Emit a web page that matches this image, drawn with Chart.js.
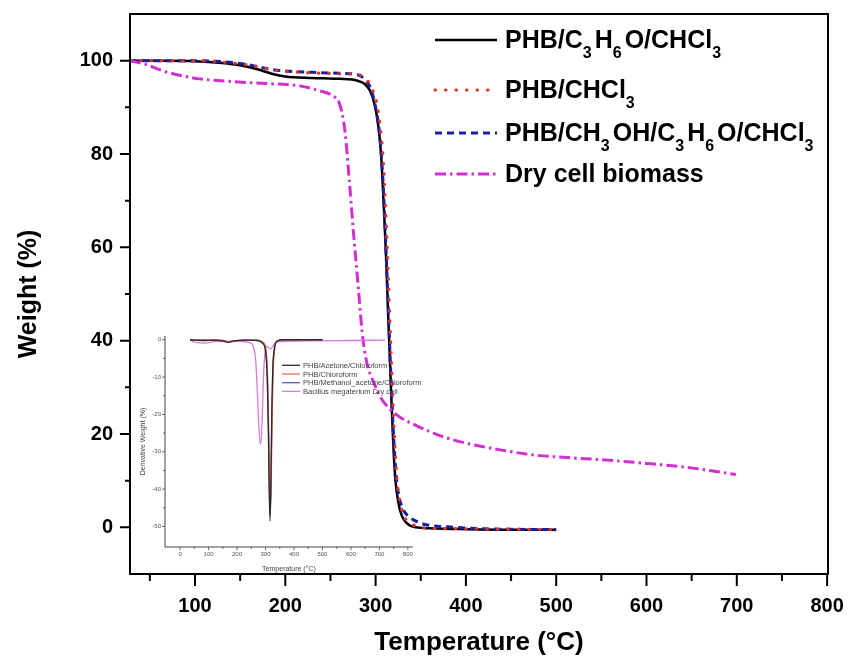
<!DOCTYPE html>
<html>
<head>
<meta charset="utf-8">
<title>TGA of PHB extracts</title>
<script src="https://cdn.jsdelivr.net/npm/chart.js@4.4.1/dist/chart.umd.min.js"></script>
<style>
  body { margin: 0; background: #fff; }
  #wrap { position: relative; width: 848px; height: 659px; }
  #tga-chart { position: absolute; left: 0; top: 0; }
  #dtg-chart { position: absolute; left: 135px; top: 328px; }
</style>
</head>
<body>
<div id="wrap">
  <canvas id="tga-chart" width="848" height="659"></canvas>
  <canvas id="dtg-chart" width="290" height="250"></canvas>
</div>
<script>
/* ============================================= */
/*                  Data                         */
/* ============================================= */
// main plot: temperature (°C) / weight (%)
const tempAcetone = [28, 60, 100, 130, 150, 170, 185, 200, 230, 260, 280, 288, 294, 299, 303, 306, 308, 310, 312, 314, 316, 318, 320, 322, 325, 329, 334, 340, 360, 400, 450, 500];
const weightAcetone = [100, 100, 99.9, 99.5, 99, 98.1, 97.2, 96.6, 96.3, 96.1, 95.7, 95, 93.5, 90.5, 86, 80, 73, 65, 56, 45, 35, 25, 16, 10, 5.5, 2.5, 1, 0.2, -0.2, -0.4, -0.5, -0.5];

const tempChloro = [28, 60, 100, 130, 150, 170, 185, 200, 230, 260, 280, 290, 296, 301, 305, 308, 310, 312, 314, 316, 318, 320, 322, 324, 327, 331, 336, 343, 360, 400, 450, 500];
const weightChloro = [100, 100, 100, 99.7, 99.3, 98.7, 98.1, 97.7, 97.4, 97.2, 97, 96, 94, 91, 86, 80, 73, 64, 54, 43, 33, 23, 15, 9.5, 5.5, 2.5, 1.2, 0.4, -0.2, -0.3, -0.4, -0.5];

const tempMethanol = [28, 60, 100, 130, 150, 170, 185, 200, 230, 260, 280, 289, 295, 300, 304, 307, 309, 311, 313, 315, 317, 319, 321, 323, 326, 330, 335, 342, 355, 380, 420, 500];
const weightMethanol = [100, 100, 100, 99.8, 99.4, 98.7, 98.1, 97.8, 97.5, 97.3, 97, 95.8, 93.8, 90, 85, 78, 71, 62, 52, 42, 32, 23, 16, 10.5, 6.5, 4, 2.6, 1.6, 0.6, 0.1, -0.3, -0.5];

const tempBiomass = [28, 45, 68, 90, 105, 142, 179, 216, 235, 253, 260, 266, 271, 276, 281, 285, 290, 298, 305, 315, 327, 345, 364, 380, 401, 438, 471, 500, 550, 600, 638, 670, 699];
const weightBiomass = [100, 99.2, 97.6, 96.6, 96.1, 95.5, 95.1, 94.6, 93.7, 92.4, 90.8, 85, 74, 62, 51, 42, 35.5, 31, 28, 25.5, 23.6, 21.8, 20.2, 19.1, 18, 16.6, 15.6, 15.1, 14.5, 13.7, 13, 12.2, 11.3];

// "_3" = subscript 3
const seriesNames = ["PHB/C_3H_6O/CHCl_3", "PHB/CHCl_3", "PHB/CH_3OH/C_3H_6O/CHCl_3", "Dry cell biomass"];

const xTicks = [50, 100, 150, 200, 250, 300, 350, 400, 450, 500, 550, 600, 650, 700, 750, 800];
const yTicks = [0, 10, 20, 30, 40, 50, 60, 70, 80, 90, 100];

// inset: derivative weight
const dtgTemp = [35, 80, 120, 150, 170, 190, 230, 270, 290, 300, 306, 310, 313, 316, 319, 322, 326, 332, 340, 360, 420, 500];
const dtgAcetone = [0, -0.2, -0.1, -0.3, -0.7, -0.3, -0.1, -0.2, -1, -3, -10, -24, -40, -48.5, -38, -20, -7, -2, -0.4, 0, 0, 0];
const dtgChloro = [0, -0.1, -0.1, -0.2, -0.5, -0.3, -0.1, -0.1, -0.6, -2, -7, -18, -32, -42, -43, -27, -10, -2.5, -0.5, 0, 0, 0];
const dtgMethanol = [0, -0.1, -0.1, -0.2, -0.6, -0.3, -0.1, -0.1, -0.8, -2.5, -9, -22, -38, -47, -40, -22, -8, -2, -0.4, 0, 0, 0];
const dtgBiomassTemp = [35, 60, 90, 120, 200, 240, 258, 266, 272, 278, 283, 288, 293, 298, 305, 312, 318, 325, 335, 360, 450, 600, 720];
const dtgBiomass = [-0.2, -0.8, -0.9, -0.5, -0.4, -0.7, -2, -6, -15, -25, -28, -22, -10, -3.5, -1.8, -2.2, -2.5, -1.8, -0.8, -0.5, -0.3, -0.2, -0.1];

const dtgNames = ["PHB/Acetone/Chloroform", "PHB/Chloroform", "PHB/Methanol_acetone/Chloroform", "Bacillus megaterium Dry cell"];

const dtgXTicks = [0, 50, 100, 150, 200, 250, 300, 350, 400, 450, 500, 550, 600, 650, 700, 750, 800];
const dtgYTicks = [-50, -45, -40, -35, -30, -25, -20, -15, -10, -5, 0];

/* ============================================= */
/*                  Plugins                      */
/* ============================================= */
const FONT = '"Liberation Sans", Arial, sans-serif';
Chart.defaults.font.family = FONT;

const pts = (xs, ys) => xs.map((x, i) => ({ x: x, y: ys[i] }));

// stop Chart.js from reserving room for half-labels at the ends
const noEdgePad = (size, key) => (s) => {
  s[key] = size;
  s.paddingLeft = 0;
  s.paddingRight = 0;
  s.paddingTop = 0;
  s.paddingBottom = 0;
};

// axis lines, optional box, outward major/minor tick marks
const axisFrame = {
  id: "axisFrame",
  afterDraw(chart, args, o) {
    const { ctx, chartArea: a } = chart;
    const x = chart.scales.x;
    const y = chart.scales.y;
    ctx.save();
    ctx.strokeStyle = o.color;
    ctx.lineWidth = o.lineWidth;
    ctx.beginPath();
    if (o.box) {
      ctx.rect(a.left, a.top, a.right - a.left, a.bottom - a.top);
    } else {
      ctx.moveTo(a.left, a.top);
      ctx.lineTo(a.left, a.bottom);
      ctx.lineTo(a.right, a.bottom);
    }
    ctx.stroke();
    ctx.lineWidth = o.tickWidth;
    ctx.beginPath();
    x.ticks.forEach((t) => {
      const px = x.getPixelForValue(t.value);
      const len = t.label !== "" ? o.xMajor : o.xMinor;
      ctx.moveTo(px, a.bottom);
      ctx.lineTo(px, a.bottom + len);
    });
    y.ticks.forEach((t) => {
      const py = y.getPixelForValue(t.value);
      const len = t.label !== "" ? o.yMajor : o.yMinor;
      ctx.moveTo(a.left, py);
      ctx.lineTo(a.left - len, py);
    });
    ctx.stroke();
    ctx.restore();
  },
};

// legend drawn from the datasets, with optional subscripts
const curveLegend = {
  id: "curveLegend",
  afterDraw(chart, args, o) {
    const ctx = chart.ctx;
    ctx.save();
    chart.data.datasets.forEach((ds, i) => {
      const base = o.baselines[i];
      const ly = base - o.lineRise;
      ctx.strokeStyle = ds.borderColor;
      ctx.lineWidth = ds.borderWidth;
      ctx.lineCap = ds.borderCapStyle || "butt";
      ctx.setLineDash(ds.borderDash || []);
      ctx.beginPath();
      ctx.moveTo(o.x, ly);
      ctx.lineTo(o.x + o.sampleLen, ly);
      ctx.stroke();
      ctx.setLineDash([]);

      // split label into runs of normal / subscript text
      const runs = [];
      let cur = "";
      const text = ds.label;
      for (let k = 0; k < text.length; k++) {
        if (o.subscripts && text[k] === "_" && k + 1 < text.length) {
          if (cur) runs.push({ t: cur, sub: false });
          cur = "";
          runs.push({ t: text[k + 1], sub: true });
          k++;
        } else {
          cur += text[k];
        }
      }
      if (cur) runs.push({ t: cur, sub: false });

      ctx.fillStyle = o.color;
      ctx.textAlign = "left";
      ctx.textBaseline = "alphabetic";
      let tx = o.x + o.sampleLen + o.gap;
      runs.forEach((r) => {
        ctx.font = r.sub ? o.subFont : o.font;
        ctx.fillText(r.t, tx, r.sub ? base + o.subDrop : base);
        tx += ctx.measureText(r.t).width + (r.sub ? o.subSpace : 0);
      });
    });
    ctx.restore();
  },
};

/* ============================================= */
/*                  Main TGA chart               */
/* ============================================= */
const tgaChart = new Chart(document.querySelector("#tga-chart"), {
  type: "line",
  data: {
    datasets: [
      {
        label: seriesNames[0],
        data: pts(tempAcetone, weightAcetone),
        borderColor: "#000000",
        borderWidth: 2.5,
        order: 3,
      },
      {
        label: seriesNames[1],
        data: pts(tempChloro, weightChloro),
        borderColor: "#e2302b",
        borderWidth: 3.2,
        borderDash: [0.5, 10],
        borderCapStyle: "round",
        order: 1,
      },
      {
        label: seriesNames[2],
        data: pts(tempMethanol, weightMethanol),
        borderColor: "#1b1f9c",
        borderWidth: 3,
        borderDash: [7, 5],
        order: 2,
      },
      {
        label: seriesNames[3],
        data: pts(tempBiomass, weightBiomass),
        borderColor: "#d22fd2",
        borderWidth: 3,
        borderDash: [11, 4, 2.5, 4],
        order: 0,
      },
    ],
  },
  options: {
    responsive: false,
    animation: false,
    devicePixelRatio: 1,
    elements: {
      point: { radius: 0 },
      line: { cubicInterpolationMode: "monotone", borderJoinStyle: "round" },
    },
    layout: { padding: { top: 14, right: 20, left: 0, bottom: 0 } },
    scales: {
      x: {
        type: "linear",
        min: 28,
        max: 801,
        afterFit: noEdgePad(85, "height"),
        afterBuildTicks: (s) => { s.ticks = xTicks.map((v) => ({ value: v })); },
        grid: { display: false, drawTicks: false },
        border: { display: false },
        ticks: {
          autoSkip: false,
          maxRotation: 0,
          padding: 20,
          color: "#000",
          font: { size: 20, weight: "bold" },
          callback: (v) => (v % 100 === 0 ? String(v) : ""),
        },
        title: {
          display: true,
          text: "Temperature (°C)",
          color: "#000",
          font: { size: 26, weight: "bold" },
          padding: { top: 0, bottom: 1 },
        },
      },
      y: {
        type: "linear",
        min: -10,
        max: 110,
        afterFit: noEdgePad(130, "width"),
        afterBuildTicks: (s) => { s.ticks = yTicks.map((v) => ({ value: v })); },
        grid: { display: false, drawTicks: false },
        border: { display: false },
        ticks: {
          autoSkip: false,
          padding: 17,
          color: "#000",
          font: { size: 20, weight: "bold" },
          callback: (v) => (v % 20 === 0 ? String(v) : ""),
        },
        title: {
          display: true,
          text: "Weight (%)",
          color: "#000",
          font: { size: 25, weight: "bold" },
          padding: { top: 14, bottom: 0 },
        },
      },
    },
    plugins: {
      legend: { display: false },
      tooltip: { enabled: false },
      axisFrame: {
        box: true, color: "#000", lineWidth: 2, tickWidth: 2,
        xMajor: 12, xMinor: 7, yMajor: 10, yMinor: 5,
      },
      curveLegend: {
        x: 435, sampleLen: 62, gap: 8, lineRise: 8,
        baselines: [48, 98, 141, 182],
        subscripts: true,
        font: "bold 25px " + FONT,
        subFont: "bold 16px " + FONT,
        subDrop: 10, subSpace: 3,
        color: "#000",
      },
    },
  },
  plugins: [axisFrame, curveLegend],
});

/* ============================================= */
/*                  Inset DTG chart              */
/* ============================================= */
const dtgChart = new Chart(document.querySelector("#dtg-chart"), {
  type: "line",
  data: {
    datasets: [
      { label: dtgNames[0], data: pts(dtgTemp, dtgAcetone), borderColor: "#2a2a2a", borderWidth: 1.3 },
      { label: dtgNames[1], data: pts(dtgTemp, dtgChloro), borderColor: "#ee6a52", borderWidth: 1.3 },
      { label: dtgNames[2], data: pts(dtgTemp, dtgMethanol), borderColor: "#5560a4", borderWidth: 1.3 },
      { label: dtgNames[3], data: pts(dtgBiomassTemp, dtgBiomass), borderColor: "#d77be0", borderWidth: 1.3 },
    ],
  },
  options: {
    responsive: false,
    animation: false,
    devicePixelRatio: 1,
    elements: {
      point: { radius: 0 },
      line: { cubicInterpolationMode: "monotone" },
    },
    layout: { padding: { top: 8, right: 12, left: 0, bottom: 0 } },
    scales: {
      x: {
        type: "linear",
        min: -53,
        max: 818,
        afterFit: noEdgePad(31, "height"),
        afterBuildTicks: (s) => { s.ticks = dtgXTicks.map((v) => ({ value: v })); },
        grid: { display: false, drawTicks: false },
        border: { display: false },
        ticks: {
          autoSkip: false,
          maxRotation: 0,
          padding: 4,
          color: "#555",
          font: { size: 6 },
          callback: (v) => (v % 100 === 0 ? String(v) : ""),
        },
        title: {
          display: true,
          text: "Temperature (°C)",
          color: "#444",
          font: { size: 7 },
          padding: { top: 0, bottom: 5 },
        },
      },
      y: {
        type: "linear",
        min: -55.5,
        max: 1,
        afterFit: noEdgePad(30, "width"),
        afterBuildTicks: (s) => { s.ticks = dtgYTicks.map((v) => ({ value: v })); },
        grid: { display: false, drawTicks: false },
        border: { display: false },
        ticks: {
          autoSkip: false,
          padding: 4,
          color: "#555",
          font: { size: 6 },
          callback: (v) => (v % 10 === 0 ? String(v) : ""),
        },
        title: {
          display: true,
          text: "Derivative Weight (%)",
          color: "#444",
          font: { size: 7 },
          padding: { top: 4, bottom: 0 },
        },
      },
    },
    plugins: {
      legend: { display: false },
      tooltip: { enabled: false },
      axisFrame: {
        box: false, color: "#444", lineWidth: 1, tickWidth: 0.8,
        xMajor: 3, xMinor: 2, yMajor: 3, yMinor: 2,
      },
      curveLegend: {
        x: 147, sampleLen: 18, gap: 3, lineRise: 2.7,
        baselines: [40, 48.7, 57.4, 66],
        subscripts: false,
        font: "7.5px " + FONT,
        subFont: "7.5px " + FONT,
        subDrop: 0, subSpace: 0,
        color: "#444",
      },
    },
  },
  plugins: [axisFrame, curveLegend],
});
</script>
</body>
</html>
